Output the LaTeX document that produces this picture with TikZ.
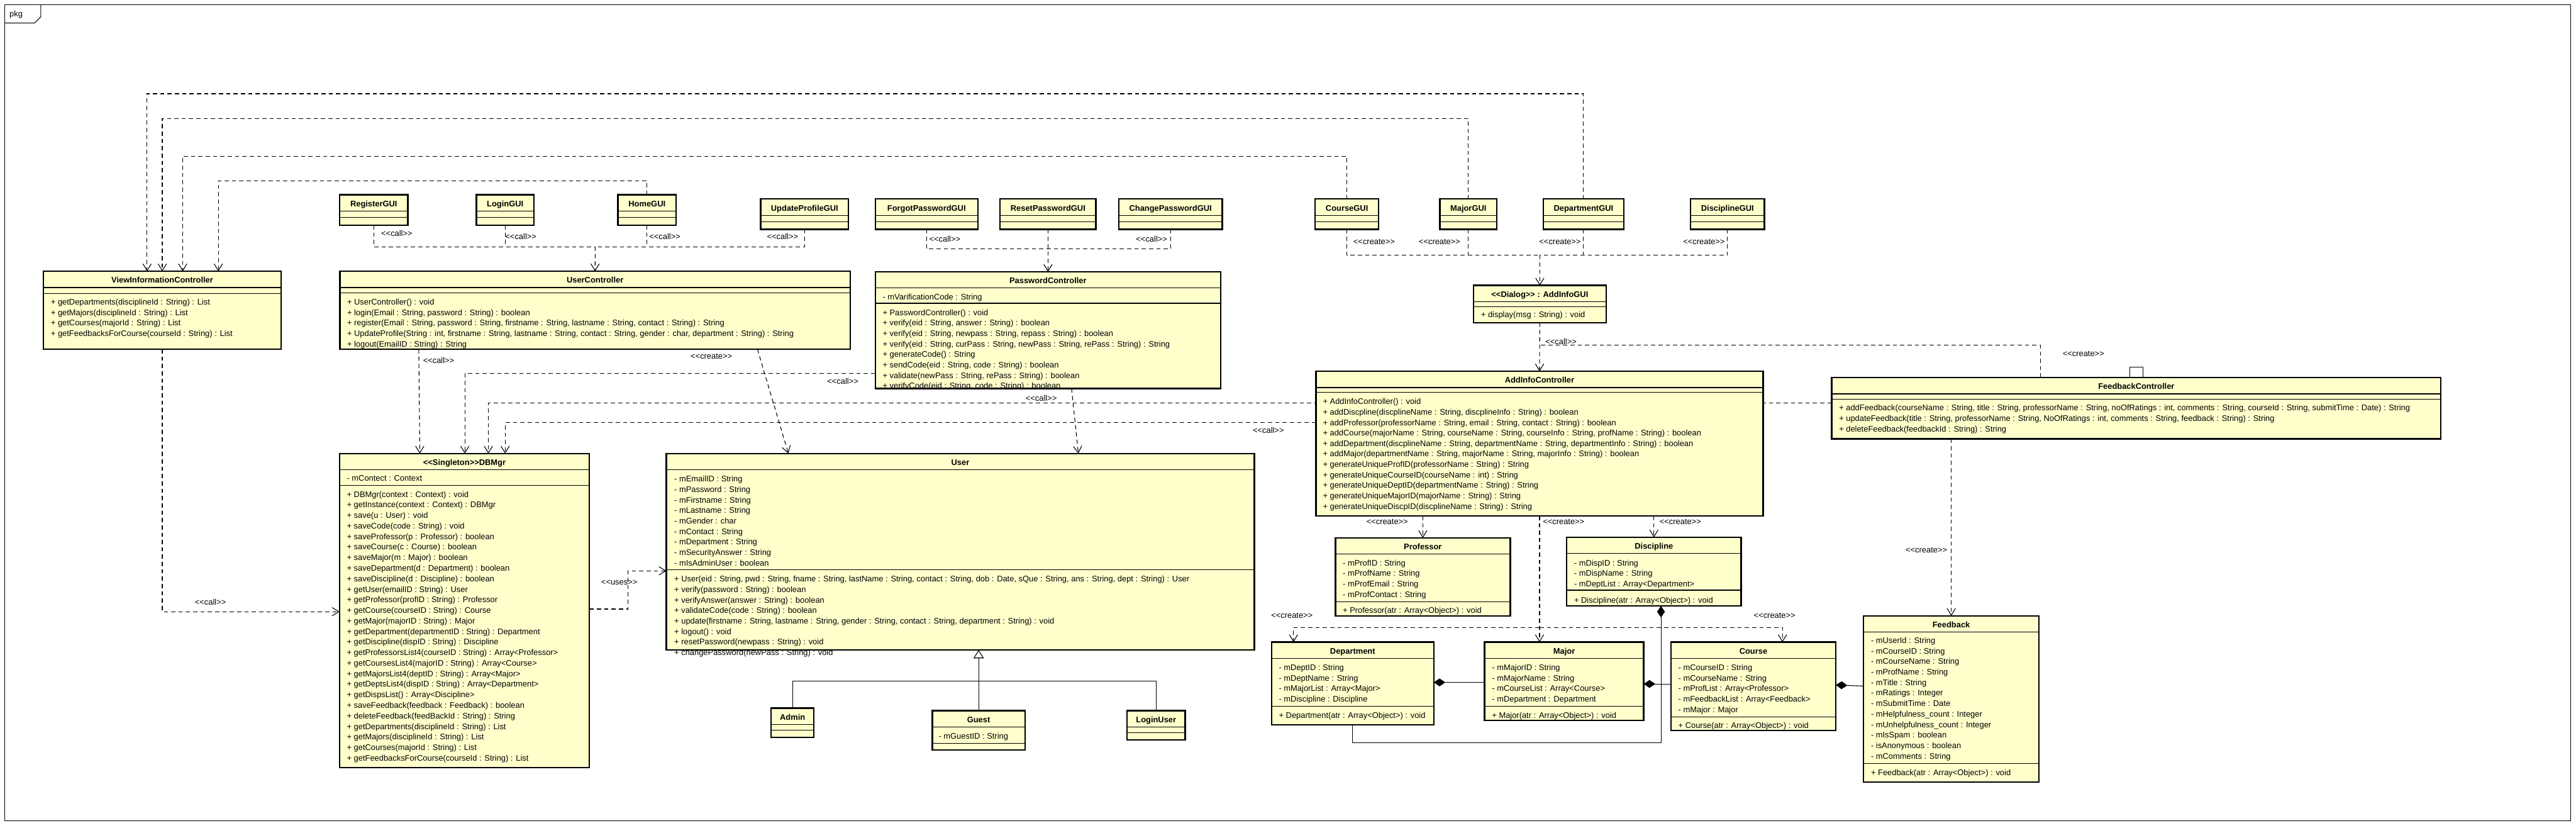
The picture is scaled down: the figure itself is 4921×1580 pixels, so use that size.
\documentclass[tikz,border=0pt]{standalone}
\usepackage{fontspec}
\setmainfont{Liberation Sans}
\usetikzlibrary{arrows.meta}
\definecolor{clsfill}{RGB}{255,255,204}
\newcommand\fs{\fontsize{15.5}{20}\selectfont}
\newcommand\fsd{\fontsize{15.5}{20.15}\selectfont}
\newcommand\guilL{<\kern0pt<}
\newcommand\guilR{>\kern0pt>}
\newcommand\lcall{\guilL call\guilR}
\newcommand\lcreate{\guilL create\guilR}
\pgfdeclarelayer{back}\pgfdeclarelayer{bg}\pgfsetlayers{back,bg,main}
\tikzset{
 cls/.style={draw, line width=2.8pt, fill=clsfill, inner sep=0pt, outer sep=0pt},
 sepl/.style={line width=1.4pt},
 hdr/.style={font=\fs\bfseries, inner sep=0pt},
 txt/.style={font=\fs, align=left, inner sep=0pt, anchor=north west},
 lbl/.style={font=\fs, inner sep=0pt},
 dep/.style={line width=1.3pt, dash pattern=on 8pt off 6pt, -{Straight Barb[length=13pt,width=16pt]}},
 link/.style={line width=1.3pt, dash pattern=on 8pt off 6pt},
 comp/.style={line width=1.3pt, {Diamond[length=22pt,width=15pt]}-},
 gen/.style={line width=1.3pt, -{Triangle[open,length=16pt,width=20pt]}},
 solidl/.style={line width=1.3pt},
}
\newcommand\clsbox[6]{%
 \node[cls,anchor=north west,minimum width={(#4-#2)*1pt},minimum height={(#5-#3)*1pt}] (#1) at (#2,#3) {};
 \node[hdr,anchor=base] (#1-t) at ({(#2+#4)/2},{#3+22.5}) {#6};
 \draw[sepl] (#2,{#3+31}) -- (#4,{#3+31});}
\newcommand\clstxt[4]{\node[txt] (#1) at (#2,{#3-9}) {\rule{0pt}{14pt}#4};}
\newcommand\guibox[5]{%
 \node[cls,anchor=north,minimum width={#4*1pt},minimum height=58pt] (#1) at (#2,#3) {};
 \node[hdr,anchor=base] (#1-t) at (#2,{#3+22.5}) {#5};
 \draw[sepl] ({#2-#4/2},{#3+31}) -- ({#2+#4/2},{#3+31});
 \draw[sepl] ({#2-#4/2},{#3+43}) -- ({#2+#4/2},{#3+43});}
\begin{document}
\begin{tikzpicture}[x=1pt,y=-1pt]
\useasboundingbox (0,0) rectangle (4921,1580);
\begin{pgfonlayer}{back}
\fill[white] (0,0) rectangle (4921,1580);
\end{pgfonlayer}
% frame
\draw[solidl] (9,9) rectangle (4911,1567);
\draw[solidl] (9,44) -- (66,44) -- (78,32) -- (78,9);
\node[lbl,anchor=base west] (pkg) at (18,32) {pkg};

% GUI boxes
\guibox{reggui}{714}{372}{130}{RegisterGUI}
\guibox{logingui}{965}{372}{110}{LoginGUI}
\guibox{homegui}{1236}{372}{111}{HomeGUI}
\guibox{updgui}{1537}{380}{168}{UpdateProfileGUI}
\guibox{fpgui}{1770}{380}{196}{ForgotPasswordGUI}
\guibox{rpgui}{2002}{380}{183}{ResetPasswordGUI}
\guibox{cpgui}{2236}{380}{198}{ChangePasswordGUI}
\guibox{crsgui}{2573}{380}{121}{CourseGUI}
\guibox{majgui}{2805}{380}{109}{MajorGUI}
\guibox{depgui}{3025}{380}{154}{DepartmentGUI}
\guibox{discgui}{3300}{380}{141}{DisciplineGUI}

% ViewInformationController
\clsbox{vic}{83}{518}{537}{667}{ViewInformationController}
\draw[sepl] (83,560) -- (537,560);
\clstxt{vic-m}{97}{577}{+ getDepartments(disciplineId : String) : List\\+ getMajors(disciplineId : String) : List\\+ getCourses(majorId : String) : List\\+ getFeedbacksForCourse(courseId : String) : List}

% UserController
\clsbox{uc}{649.5}{518}{1624}{667}{UserController}
\draw[sepl] (649.5,559) -- (1624,559);
\clstxt{uc-m}{663}{577}{+ UserController() : void\\+ login(Email : String, password : String) : boolean\\+ register(Email : String, password : String, firstname : String, lastname : String, contact : String) : String\\+ UpdateProfile(String : int, firstname : String, lastname : String, contact : String, gender : char, department : String) : String\\+ logout(EmailID : String) : String}

% PasswordController
\clsbox{pc}{1672}{519}{2332}{742}{PasswordController}
\clstxt{pc-a}{1686}{567}{- mVarificationCode : String}
\draw[sepl] (1672,579) -- (2332,579);
\begin{scope}
\clip (1672,519) rectangle (2332,741);
\clstxt{pc-m}{1686}{597}{+ PasswordController() : void\\+ verify(eid : String, answer : String) : boolean\\+ verify(eid : String, newpass : String, repass : String) : boolean\\+ verify(eid : String, curPass : String, newPass : String, rePass : String) : String\\+ generateCode() : String\\+ sendCode(eid : String, code : String) : boolean\\+ validate(newPass : String, rePass : String) : boolean\\+ verifyCode(eid : String, code : String) : boolean}
\end{scope}
\draw[line width=2.8pt] (pc.south west) -- (pc.south east);

% AddInfoGUI
\clsbox{aigui}{2815}{545}{3068}{616}{\guilL Dialog\guilR\ : AddInfoGUI}
\draw[sepl] (2815,586) -- (3068,586);
\clstxt{aigui-m}{2829}{601}{+ display(msg : String) : void}

% AddInfoController
\clsbox{aic}{2514}{709}{3368}{985}{AddInfoController}
\draw[sepl] (2514,749) -- (3368,749);
\clstxt{aic-m}{2527}{767}{+ AddInfoController() : void\\+ addDiscpline(discplineName : String, discplineInfo : String) : boolean\\+ addProfessor(professorName : String, email : String, contact : String) : boolean\\+ addCourse(majorName : String, courseName : String, courseInfo : String, profName : String) : boolean\\+ addDepartment(discplineName : String, departmentName : String, departmentInfo : String) : boolean\\+ addMajor(departmentName : String, majorName : String, majorInfo : String) : boolean\\+ generateUniqueProfID(professorName : String) : String\\+ generateUniqueCourseID(courseName : int) : String\\+ generateUniqueDeptID(departmentName : String) : String\\+ generateUniqueMajorID(majorName : String) : String\\+ generateUniqueDiscpID(discplineName : String) : String}

% FeedbackController
\clsbox{fc}{3499}{721}{4663}{838}{FeedbackController}
\draw[sepl] (3499,762) -- (4663,762);
\clstxt{fc-m}{3513}{779}{+ addFeedback(courseName : String, title : String, professorName : String, noOfRatings : int, comments : String, courseId : String, submitTime : Date) : String\\+ updateFeedback(title : String, professorName : String, NoOfRatings : int, comments : String, feedback : String) : String\\+ deleteFeedback(feedbackId : String) : String}

% DBMgr
\clsbox{dbm}{648.5}{866}{1126}{1466}{\guilL Singleton\guilR DBMgr}
\clstxt{dbm-a}{662.5}{913}{- mContect : Context}
\draw[sepl] (648.5,927) -- (1126,927);
\node[txt,font=\fsd] (dbm-m) at (662.5,935) {\rule{0pt}{14pt}+ DBMgr(context : Context) : void\\+ getInstance(context : Context) : DBMgr\\+ save(u : User) : void\\+ saveCode(code : String) : void\\+ saveProfessor(p : Professor) : boolean\\+ saveCourse(c : Course) : boolean\\+ saveMajor(m : Major) : boolean\\+ saveDepartment(d : Department) : boolean\\+ saveDiscipline(d : Discipline) : boolean\\+ getUser(emailID : String) : User\\+ getProfessor(profID : String) : Professor\\+ getCourse(courseID : String) : Course\\+ getMajor(majorID : String) : Major\\+ getDepartment(departmentID : String) : Department\\+ getDiscipline(dispID : String) : Discipline\\+ getProfessorsList4(courseID : String) : Array<Professor>\\+ getCoursesList4(majorID : String) : Array<Course>\\+ getMajorsList4(deptID : String) : Array<Major>\\+ getDeptsList4(dispID : String) : Array<Department>\\+ getDispsList() : Array<Discipline>\\+ saveFeedback(feedback : Feedback) : boolean\\+ deleteFeedback(feedBackId : String) : String\\+ getDepartments(disciplineId : String) : List\\+ getMajors(disciplineId : String) : List\\+ getCourses(majorId : String) : List\\+ getFeedbacksForCourse(courseId : String) : List};

% User
\clsbox{usr}{1273}{866}{2396}{1241}{User}
\clstxt{usr-a}{1288}{915}{- mEmailID : String\\- mPassword : String\\- mFirstname : String\\- mLastname : String\\- mGender : char\\- mContact : String\\- mDepartment : String\\- mSecurityAnswer : String\\- mIsAdminUser : boolean}
\draw[sepl] (1273,1088) -- (2396,1088);
\clstxt{usr-m}{1288}{1106}{+ User(eid : String, pwd : String, fname : String, lastName : String, contact : String, dob : Date, sQue : String, ans : String, dept : String) : User\\+ verify(password : String) : boolean\\+ verifyAnswer(answer : String) : boolean\\+ validateCode(code : String) : boolean\\+ update(firstname : String, lastname : String, gender : String, contact : String, department : String) : void\\+ logout() : void\\+ resetPassword(newpass : String) : void\\+ changePassword(newPass : String) : void}
\draw[line width=2.8pt] (usr.south west) -- (usr.south east);

% Admin, Guest, LoginUser
\clsbox{admin}{1473}{1352}{1555}{1408}{Admin}
\draw[sepl] (1473,1394) -- (1555,1394);
\clsbox{guest}{1781}{1357}{1958}{1432}{Guest}
\clstxt{guest-a}{1793}{1406}{- mGuestID : String}
\draw[sepl] (1781,1419) -- (1958,1419);
\clsbox{luser}{2153}{1357}{2264}{1413}{LoginUser}
\draw[sepl] (2153,1399) -- (2264,1399);

% Professor
\clsbox{prof}{2551}{1027}{2885}{1176}{Professor}
\clstxt{prof-a}{2565}{1075}{- mProfID : String\\- mProfName : String\\- mProfEmail : String\\- mProfContact : String}
\draw[sepl] (2551,1149) -- (2885,1149);
\clstxt{prof-m}{2565}{1166}{+ Professor(atr : Array<Object>) : void}

% Discipline
\clsbox{disc}{2993}{1026}{3326}{1157}{Discipline}
\clstxt{disc-a}{3007}{1075}{- mDispID : String\\- mDispName : String\\- mDeptList : Array<Department>}
\draw[sepl] (2993,1127) -- (3326,1127);
\clstxt{disc-m}{3007}{1146}{+ Discipline(atr : Array<Object>) : void}

% Department
\clsbox{dept}{2429}{1226}{2739}{1384}{Department}
\clstxt{dept-a}{2443}{1275}{- mDeptID : String\\- mDeptName : String\\- mMajorList : Array<Major>\\- mDiscipline : Discipline}
\draw[sepl] (2429,1349) -- (2739,1349);
\clstxt{dept-m}{2443}{1366}{+ Department(atr : Array<Object>) : void}

% Major
\clsbox{maj}{2836}{1226}{3140}{1376}{Major}
\clstxt{maj-a}{2850}{1275}{- mMajorID : String\\- mMajorName : String\\- mCourseList : Array<Course>\\- mDepartment : Department}
\draw[sepl] (2836,1349) -- (3140,1349);
\clstxt{maj-m}{2850}{1366}{+ Major(atr : Array<Object>) : void}

% Course
\clsbox{crs}{3192}{1226}{3507}{1395}{Course}
\clstxt{crs-a}{3206}{1275}{- mCourseID : String\\- mCourseName : String\\- mProfList : Array<Professor>\\- mFeedbackList : Array<Feedback>\\- mMajor : Major}
\draw[sepl] (3192,1369) -- (3507,1369);
\clstxt{crs-m}{3206}{1386}{+ Course(atr : Array<Object>) : void}

% Feedback
\clsbox{fb}{3560}{1176}{3895}{1493}{Feedback}
\node[txt,font=\fontsize{15.5}{20.1}\selectfont] (fb-a) at (3574,1214) {\rule{0pt}{14pt}- mUserId : String\\- mCourseID : String\\- mCourseName : String\\- mProfName : String\\- mTitle : String\\- mRatings : Integer\\- mSubmitTime : Date\\- mHelpfulness\_count : Integer\\- mUnhelpfulness\_count : Integer\\- mIsSpam : boolean\\- isAnonymous : boolean\\- mComments : String};
\draw[sepl] (3560,1458) -- (3895,1458);
\clstxt{fb-m}{3574}{1475}{+ Feedback(atr : Array<Object>) : void}

% ---------------- connectors
\begin{pgfonlayer}{bg}
% GUIs -> ViewInformationController
\draw[dep] (depgui.north) -- (3025,179) -- (281,179) -- ([xshift=198pt]vic.north west);
\draw[dep] (majgui.north) -- (2805,226) -- (310,226) -- ([xshift=227pt]vic.north west);
\draw[dep] (crsgui.north) -- (2573,298) -- (349,298) -- ([xshift=266pt]vic.north west);
\draw[dep] (homegui.north) -- (1236,345) -- (417,345) -- ([xshift=334pt]vic.north west);
% GUIs -> UserController
\draw[link] (reggui.south) |- (1137,471);
\draw[link] (logingui.south) -- (965,471);
\draw[link] (homegui.south) -- (1236,471);
\draw[link] (updgui.south) |- (1137,471);
\draw[dep] (1137,471) -- (uc.north);
% GUIs -> PasswordController
\draw[link] (fpgui.south) |- (2002,475);
\draw[link] (cpgui.south) |- (2002,475);
\draw[dep] (rpgui.south) -- (pc.north);
% GUIs -> AddInfoGUI
\draw[link] (crsgui.south) |- (2941.5,487);
\draw[link] (majgui.south) -- (2805,487);
\draw[link] (depgui.south) -- (3025,487);
\draw[link] (discgui.south) |- (2941.5,487);
\draw[dep] (2941.5,487) -- (aigui.north);
% AddInfoGUI -> AddInfoController
\draw[dep] (aigui.south) -- (aic.north);
\draw[link] ([xshift=399pt]fc.north west) |- (2941,659);
% to DBMgr
\draw[dep] ([xshift=227pt]vic.south west) |- ([yshift=-302pt]dbm.north west);
\draw[dep] ([xshift=150.5pt]uc.south west) -- ([xshift=153.5pt]dbm.north west);
\draw[dep] ([yshift=-194pt]pc.north west) -| ([xshift=239.5pt]dbm.north west);
\draw[dep] ([yshift=-49pt]fc.north west) -| ([xshift=284.5pt]dbm.north west);
\draw[dep] ([yshift=-98pt]aic.north west) -| ([xshift=316.5pt]dbm.north west);
% DBMgr -> User
\draw[dep] ([yshift=-297pt]dbm.north east) -- (1200,1163) |- ([yshift=-224pt]usr.north west);
% -> User
\draw[dep] ([xshift=797.5pt]uc.south west) -- ([xshift=233pt]usr.north west);
\draw[dep] ([xshift=375pt]pc.south west) -- ([xshift=787pt]usr.north west);
% creations from AddInfoController
\draw[dep] (prof.north |- aic.south) -- (prof.north);
\draw[dep] (disc.north |- aic.south) -- (disc.north);
\draw[dep] (aic.south) -- (aic.south |- maj.north);
\draw[dep] (2941,1198) -| ([xshift=42pt]dept.north west);
\draw[dep] (2941,1198) -| ([xshift=213pt]crs.north west);
% FeedbackController
\draw[dep] (fb.north |- fc.south) -- (fb.north);
\draw[solidl] ([xshift=570pt]fc.north west) -- ++(0,-20) -| ([xshift=595pt]fc.north west);
% compositions
\draw[comp] ([yshift=-77pt]dept.north east) -- ([yshift=-77pt]maj.north west);
\draw[comp] ([yshift=-80pt]maj.north east) -- ([yshift=-80pt]crs.north west);
\draw[comp] ([yshift=-82pt]crs.north east) -- ([yshift=-134pt]fb.north west);
\draw[comp] ([xshift=180pt]disc.south west) -- (3173,1418) -| ([xshift=155pt]dept.south west);
% generalization
\draw[gen] (guest.north) -- ([xshift=596.5pt]usr.south west);
\draw[solidl] (admin.north) |- (1869.5,1300);
\draw[solidl] (luser.north) |- (1869.5,1300);
\end{pgfonlayer}

% labels
\node[lbl] (l1) at (758,446) {\lcall};
\node[lbl] (l2) at (995,452) {\lcall};
\node[lbl] (l3) at (1270,452) {\lcall};
\node[lbl] (l4) at (1495,452) {\lcall};
\node[lbl] (l5) at (1805,456) {\lcall};
\node[lbl] (l6) at (2200,456) {\lcall};
\node[lbl] (l7) at (2625,462) {\lcreate};
\node[lbl] (l8) at (2750,462) {\lcreate};
\node[lbl] (l9) at (2980,462) {\lcreate};
\node[lbl] (l10) at (3255,462) {\lcreate};
\node[lbl] (l11) at (2982,652) {\lcall};
\node[lbl] (l12) at (3980,676) {\lcreate};
\node[lbl] (l13) at (402,1150) {\lcall};
\node[lbl] (l14) at (838,688) {\lcall};
\node[lbl] (l15) at (1610,728) {\lcall};
\node[lbl] (l16) at (1989,760) {\lcall};
\node[lbl] (l17) at (2423,822) {\lcall};
\node[lbl] (l18) at (1183,1112) {\guilL uses\guilR};
\node[lbl] (l19) at (1359,680) {\lcreate};
\node[lbl] (l20) at (2650,997) {\lcreate};
\node[lbl] (l21) at (2987,997) {\lcreate};
\node[lbl] (l22) at (3210,997) {\lcreate};
\node[lbl] (l23) at (2468,1175) {\lcreate};
\node[lbl] (l24) at (3390,1175) {\lcreate};
\node[lbl] (l25) at (3680,1051) {\lcreate};
\end{tikzpicture}
\end{document}
